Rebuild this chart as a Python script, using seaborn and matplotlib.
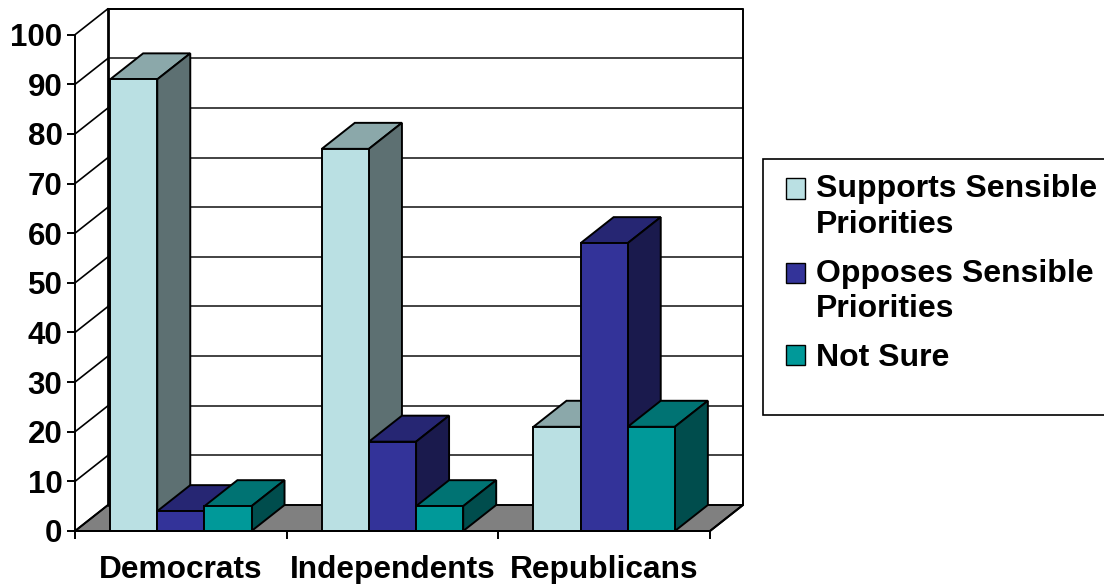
import matplotlib
matplotlib.use('Agg')
import matplotlib.pyplot as plt
from matplotlib.colors import to_rgb
from matplotlib.legend_handler import HandlerPatch
from matplotlib.patches import Rectangle
import pandas as pd
import seaborn as sns

# data
groups = ['Democrats', 'Independents', 'Republicans']
supports = [91, 77, 21]
opposes = [4, 18, 58]
not_sure = [5, 5, 21]
series_names = ['Supports Sensible\nPriorities', 'Opposes Sensible\nPriorities', 'Not Sure']
colors = ['#BAE0E3', '#333399', '#009999']
yticks = list(range(0, 101, 10))

df = pd.DataFrame({
    'group': groups * 3,
    'series': [series_names[0]] * 3 + [series_names[1]] * 3 + [series_names[2]] * 3,
    'value': supports + opposes + not_sure,
})

sns.set_theme(style='white')
plt.rcParams['font.family'] = ['Liberation Sans', 'DejaVu Sans']
plt.rcParams['font.weight'] = 'bold'

W, H = 1104, 584
fig = plt.figure(figsize=(W / 100, H / 100), dpi=100)
ax = fig.add_axes([75 / W, 1 - 531 / H, 635 / W, 496.3 / H])

sns.barplot(data=df, x='group', y='value', hue='series', hue_order=series_names,
            palette=colors, saturation=1, width=0.668, gap=0,
            edgecolor='black', linewidth=1.4, ax=ax)
ax.set_xlim(-0.5, 2.5)
ax.set_ylim(0, 100)

# depth of the fake 3d box, in data units
dx = 33 / (635 / 3)
dy = 26 / 4.963
x0, x1 = -0.5, 2.5

# collect the bars before adding other patches
bars = [b for c in ax.containers for b in c]
bars = sorted(bars, key=lambda p: p.get_x())

# floor and walls
ax.fill([x0, x0 + dx, x1 + dx, x1], [0, dy, dy, 0], color='#808080', ec='black', lw=1.4,
        clip_on=False, zorder=1)
ax.plot([x0 + dx, x0 + dx], [dy, 100 + dy], color='black', lw=2, clip_on=False, zorder=1.5)
ax.plot([x0 + dx, x1 + dx, x1 + dx], [100 + dy, 100 + dy, dy], color='black', lw=1.4,
        clip_on=False, zorder=1.5)
ax.plot([x1 + dx, x1], [dy, 0], color='black', lw=1.4, clip_on=False, zorder=1.5)
for t in yticks:
    ax.plot([x0, x0 + dx], [t, t + dy], color='black', lw=1.2, clip_on=False, zorder=1.5)
    if t > 0:
        ax.plot([x0 + dx, x1 + dx], [t + dy, t + dy], color='#222222', lw=1.2, clip_on=False, zorder=1.2)

# top and side faces, left to right so nearer bars cover the ones before
for i, bar in enumerate(bars):
    l, r, h = bar.get_x(), bar.get_x() + bar.get_width(), bar.get_height()
    rgb = to_rgb(bar.get_facecolor()[:3])
    z = 3 + i
    ax.fill([l, l + dx, r + dx, r], [h, h + dy, h + dy, h], facecolor=[c * 0.75 for c in rgb],
            edgecolor='black', lw=1.4, clip_on=False, zorder=z)
    ax.fill([r, r + dx, r + dx, r], [0, dy, h + dy, h], facecolor=[c * 0.5 for c in rgb],
            edgecolor='black', lw=1.4, clip_on=False, zorder=z)
    bar.set_zorder(z + 0.5)

# axes
for side in ['top', 'right']:
    ax.spines[side].set_visible(False)
for side in ['left', 'bottom']:
    ax.spines[side].set_color('black')
    ax.spines[side].set_linewidth(1.4)
    ax.spines[side].set_zorder(100)
ax.set_xlabel('')
ax.set_ylabel('')
ax.set_yticks(yticks)
ax.set_xticks([-0.5, 0.5, 1.5, 2.5], minor=True)
ax.tick_params(axis='y', length=6, width=1.4, color='black', pad=3, labelsize=22.5, left=True)
ax.tick_params(axis='x', which='major', length=0, pad=17, labelsize=22.8)
ax.tick_params(axis='x', which='minor', length=6, width=1.4, color='black', bottom=True)
for lab in ax.get_xticklabels() + ax.get_yticklabels():
    lab.set_fontweight('bold')
    lab.set_color('black')

# legend box runs off the right edge of the image
fig.add_artist(Rectangle((763 / W, 1 - 415 / H), 400 / W, 256 / H, transform=fig.transFigure,
                         fc='white', ec='black', lw=1.2, zorder=-1))
handles, labels = ax.get_legend_handles_labels()


# swatch sits on the first line of a two line label
def raised_swatch(legend, orig_handle, xdescent, ydescent, width, height, fontsize):
    return Rectangle((-xdescent, -ydescent + 13.5), width, height)


handler_map = {h: HandlerPatch(patch_func=raised_swatch)
               for h, lab in zip(handles, labels) if '\n' in lab}
leg = ax.legend(handles, labels, loc='upper left', bbox_to_anchor=(786 / W, 1 - 174 / H),
                bbox_transform=fig.transFigure, frameon=False, handler_map=handler_map,
                handlelength=0.6, handleheight=0.6, handletextpad=0.33,
                labelspacing=0.58, borderpad=0, borderaxespad=0,
                prop={'family': 'Liberation Sans', 'weight': 'bold', 'size': 23})
for t in leg.get_texts():
    t.set_linespacing(1.26)
    t.set_color('black')
for h in leg.legend_handles:
    h.set_linewidth(1.0)
leg.set_zorder(200)

fig.savefig('out.png', dpi=100)
